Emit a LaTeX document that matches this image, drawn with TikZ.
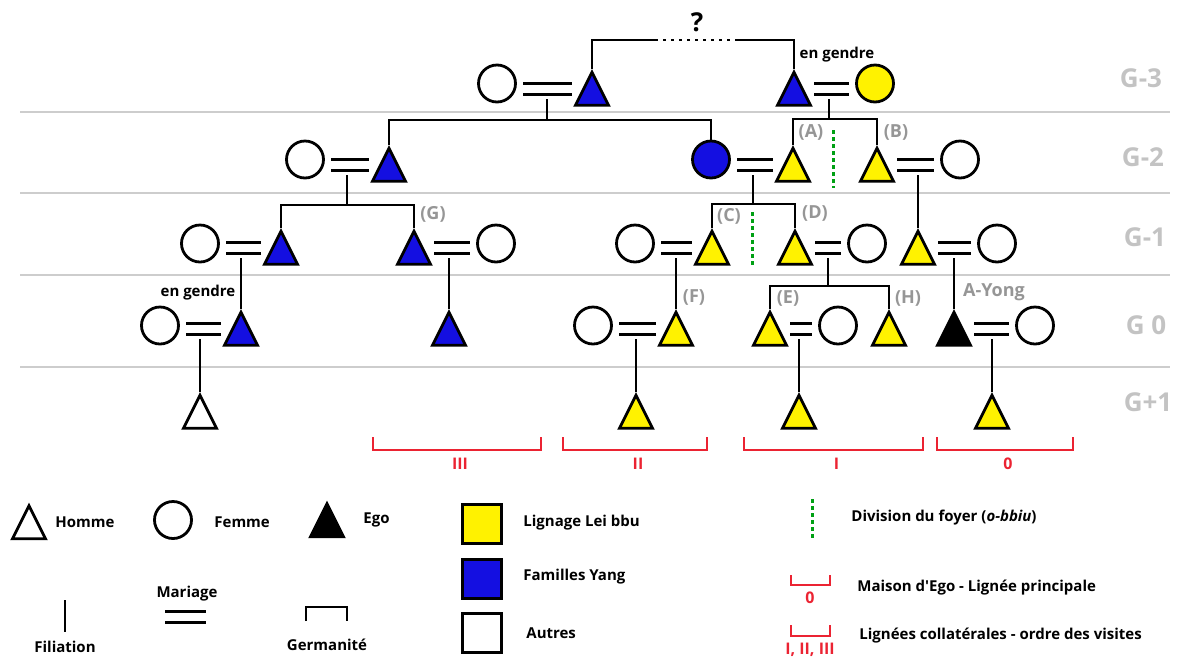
\documentclass[tikz,border=0pt]{standalone}
\usepackage{fontspec}
\setmainfont{Open Sans}[Ligatures=TeXOff]
\usetikzlibrary{shapes.geometric}
\definecolor{leiyellow}{RGB}{255,242,0}
\definecolor{yangblue}{RGB}{20,15,225}
\definecolor{visitred}{RGB}{235,35,50}
\definecolor{foyergreen}{RGB}{0,160,20}
\definecolor{tagGray}{RGB}{150,150,150}
\definecolor{genGray}{RGB}{195,195,195}
\definecolor{lineGray}{RGB}{205,205,205}

\begin{document}
\begin{tikzpicture}
  [x=1pt,y=-1pt,line width=2.8pt,
   man/.style={shape=isosceles triangle,isosceles triangle stretches,
               shape border rotate=90,minimum width=33pt,minimum height=33pt,
               inner sep=0pt,anchor=apex,draw},
   woman/.style={shape=circle,minimum size=37pt,inner sep=0pt,draw},
   swatch/.style={shape=rectangle,minimum size=39pt,inner sep=0pt,draw},
   wed/.style={double,double distance=8pt,line width=2.6pt,
               shorten <=20pt,shorten >=26pt,transform canvas={yshift=17.5pt}},
   foyer/.style={draw=foyergreen,line width=3pt,dash pattern=on 3.5pt off 3.5pt},
   visit/.style={draw=visitred,line width=2.8pt},
   visitlbl/.style={text=visitred,font=\bfseries\fontsize{16}{18}\selectfont,inner sep=0pt},
   tag/.style={text=tagGray,font=\bfseries\fontsize{18}{20}\selectfont,inner sep=0pt},
   gen/.style={text=genGray,font=\bfseries\fontsize{26}{30}\selectfont,inner sep=0pt},
   txt/.style={font=\bfseries\fontsize{15}{18}\selectfont,inner sep=0pt}]
\useasboundingbox (0,0) rectangle (1183,657);

% generations
\foreach \y in {112,193,275,367}
  \draw[lineGray,line width=2.5pt] (20,\y) -- (1170,\y);
\node[gen] (g3) at (1141,78)  {G-3};
\node[gen] (g2) at (1143,157) {G-2};
\node[gen] (g1) at (1145,237) {G-1};
\node[gen] (g0) at (1146,325) {G 0};
\node[gen] (gp) at (1148,402) {G+1};

% G-3
\node[woman]                   (w1) at (497,83.5) {};
\node[man,fill=yangblue]       (h1) at (592,68.5) {};
\node[man,fill=yangblue]       (h2) at (794,68.5) {};
\node[woman,fill=leiyellow]    (w2) at (875,83.5) {};

% G-2
\node[woman]                   (w3) at (305,159.5) {};
\node[man,fill=yangblue]       (h3) at (389,144.5) {};
\node[woman,fill=yangblue]     (w4) at (711,159.5) {};
\node[man,fill=leiyellow]      (hA) at (793,144.5) {};
\node[man,fill=leiyellow]      (hB) at (877,144.5) {};
\node[woman]                   (w5) at (960,159.5) {};

% G-1
\node[woman]                   (w6)  at (200,243.5) {};
\node[man,fill=yangblue]       (h6)  at (281,227.5) {};
\node[man,fill=yangblue]       (hG)  at (414,227.5) {};
\node[woman]                   (w7)  at (496,243.5) {};
\node[woman]                   (w8)  at (635,243.5) {};
\node[man,fill=leiyellow]      (hC)  at (712,227.5) {};
\node[man,fill=leiyellow]      (hD)  at (795,227.5) {};
\node[woman]                   (w9)  at (867,243.5) {};
\node[man,fill=leiyellow]      (h10) at (918,227.5) {};
\node[woman]                   (w10) at (997,243.5) {};

% G 0
\node[woman]                   (w11) at (160,325.5) {};
\node[man,fill=yangblue]       (h11) at (241,308.5) {};
\node[man,fill=yangblue]       (h12) at (449,308.5) {};
\node[woman]                   (w13) at (593,325.5) {};
\node[man,fill=leiyellow]      (hF)  at (676,308.5) {};
\node[man,fill=leiyellow]      (hE)  at (770,308.5) {};
\node[woman]                   (w14) at (838,325.5) {};
\node[man,fill=leiyellow]      (hH)  at (889,308.5) {};
\node[man,fill=black]          (ego) at (954,308.5) {};
\node[woman]                   (w15) at (1035,325.5) {};

% G+1
\node[man]                     (k1) at (200,391.5) {};
\node[man,fill=leiyellow]      (k2) at (636,391.5) {};
\node[man,fill=leiyellow]      (k3) at (799,391.5) {};
\node[man,fill=leiyellow]      (k4) at (992,391.5) {};

% marriages
\draw[wed] (h1.lower side)  -- (h1.lower side -| w1.center);
\draw[wed] (h2.lower side)  -- (h2.lower side -| w2.center);
\draw[wed] (h3.lower side)  -- (h3.lower side -| w3.center);
\draw[wed] (hA.lower side)  -- (hA.lower side -| w4.center);
\draw[wed] (hB.lower side)  -- (hB.lower side -| w5.center);
\draw[wed] (h6.lower side)  -- (h6.lower side -| w6.center);
\draw[wed] (hG.lower side)  -- (hG.lower side -| w7.center);
\draw[wed] (hC.lower side)  -- (hC.lower side -| w8.center);
\draw[wed] (hD.lower side)  -- (hD.lower side -| w9.center);
\draw[wed] (h10.lower side) -- (h10.lower side -| w10.center);
\draw[wed] (h11.lower side) -- (h11.lower side -| w11.center);
\draw[wed] (hF.lower side)  -- (hF.lower side -| w13.center);
\draw[wed] (hE.lower side)  -- (hE.lower side -| w14.center);
\draw[wed] (ego.lower side) -- (ego.lower side -| w15.center);

% filiation
\coordinate (m1)  at (547,99);  \coordinate (m2)  at (829,99);
\coordinate (m3)  at (347,175); \coordinate (m4)  at (753,175);
\coordinate (m5)  at (918,175);
\coordinate (m6)  at (241,258); \coordinate (m7)  at (449,258);
\coordinate (m8)  at (676,258); \coordinate (m9)  at (828,258);
\coordinate (m10) at (954,258);
\coordinate (m11) at (200,339); \coordinate (m13) at (636,339);
\coordinate (m14) at (799,339); \coordinate (m15) at (992,339);
\coordinate (s1) at (547,120); \coordinate (s2) at (829,119);
\coordinate (s3) at (347,205); \coordinate (s4) at (753,204);
\coordinate (s5) at (828,286);

\draw (m1) -- (s1);  \draw (h3.apex) |- (s1) -| (w4.north);
\draw (m2) -- (s2);  \draw (hA.apex) |- (s2) -| (hB.apex);
\draw (m3) -- (s3);  \draw (h6.apex) |- (s3) -| (hG.apex);
\draw (m4) -- (s4);  \draw (hC.apex) |- (s4) -| (hD.apex);
\draw (m9) -- (s5);  \draw (hE.apex) |- (s5) -| (hH.apex);
\draw (m5) -- (h10.apex);
\draw (m6) -- (h11.apex);
\draw (m7) -- (h12.apex);
\draw (m8) -- (hF.apex);
\draw (m10) -- (ego.apex);
\draw (m11) -- (k1.apex);
\draw (m13) -- (k2.apex);
\draw (m14) -- (k3.apex);
\draw (m15) -- (k4.apex);

% unknown link
\coordinate (q1) at (655,40); \coordinate (q2) at (737,40);
\draw (h1.apex) |- (q1);
\draw[dash pattern=on 3pt off 5pt] (q1) -- (q2);
\draw (q2) -| (h2.apex);
\node[font=\bfseries\fontsize{26}{30}\selectfont,inner sep=0pt] (qm) at (697,22) {?};

% household divisions
\coordinate (d1) at (833,130); \coordinate (d2) at (833,188);
\coordinate (d3) at (752,212); \coordinate (d4) at (752,268);
\draw[foyer] (d1) -- (d2);
\draw[foyer] (d3) -- (d4);

% tags
\node[tag] (tA) at (811,132) {(A)};
\node[tag] (tB) at (896,132) {(B)};
\node[tag] (tC) at (729,216) {(C)};
\node[tag] (tD) at (815,213) {(D)};
\node[tag] (tG) at (433,214) {(G)};
\node[tag] (tF) at (694,297) {(F)};
\node[tag] (tE) at (788,298) {(E)};
\node[tag] (tH) at (908,298) {(H)};
\node[tag,font=\bfseries\fontsize{18}{20}\selectfont] (tEgo) at (994,292) {A-Yong};
\node[txt] (eg1) at (837,55)  {en gendre};
\node[txt] (eg2) at (198,293) {en gendre};

% visits
\foreach \a/\b/\t/\n in {373/541/III/v3,563/707/II/v2,744/923/I/v1,937/1073/0/v0} {
  \draw[visit] (\a,437) |- (\b,450) -- (\b,437);
  \node[visitlbl] (\n) at ({(\a+\b)/2+3},464) {\t};
}

% legend
\node[man]               (lh) at (29,502) {};
\node[txt,anchor=west]   (lhT) at (54,522) {Homme};
\node[woman]             (lw) at (173,520) {};
\node[txt,anchor=west]   (lwT) at (213,522) {Femme};
\node[man,fill=black]    (le) at (327,500) {};
\node[txt,anchor=west]   (leT) at (362,520) {Ego};

\coordinate (lf1) at (65,600); \coordinate (lf2) at (65,632);
\draw (lf1) -- (lf2);
\node[txt] (lfT) at (65,647) {Filiation};
\coordinate (lm1) at (165,617); \coordinate (lm2) at (206,617);
\draw[double,double distance=8pt,line width=2.6pt] (lm1) -- (lm2);
\node[txt] (lmT) at (187,594) {Mariage};
\coordinate (lg1) at (306,621); \coordinate (lg2) at (347,621);
\draw (lg1) -- ++(0,-14) -| (lg2);
\node[txt] (lgT) at (327,645) {Germanité};

\node[swatch,fill=leiyellow] (sqL) at (482,524) {};
\node[swatch,fill=yangblue]  (sqY) at (482,579) {};
\node[swatch]                (sqA) at (482,633) {};
\node[txt,anchor=west] (sqLT) at (522,523) {Lignage Lei bbu};
\node[txt,anchor=west] (sqYT) at (522,577) {Familles Yang};
\node[txt,anchor=west] (sqAT) at (525,633) {Autres};

\coordinate (ld1) at (812,499); \coordinate (ld2) at (812,538);
\draw[foyer] (ld1) -- (ld2);
\node[txt,anchor=west] (ldT) at (850,518) {Division du foyer (\textit{o-bbiu})};
\draw[visit] (791,575) |- (830,585) -- (830,575);
\node[visitlbl] (l0) at (810,598) {0};
\node[txt,anchor=west] (l0T) at (856,588) {Maison d'Ego - Lignée principale};
\draw[visit] (791,625) |- (830,636) -- (830,625);
\node[visitlbl] (l1) at (810,650) {I, II, III};
\node[txt,anchor=west] (l1T) at (858,636) {Lignées collatérales - ordre des visites};
\end{tikzpicture}
\end{document}
